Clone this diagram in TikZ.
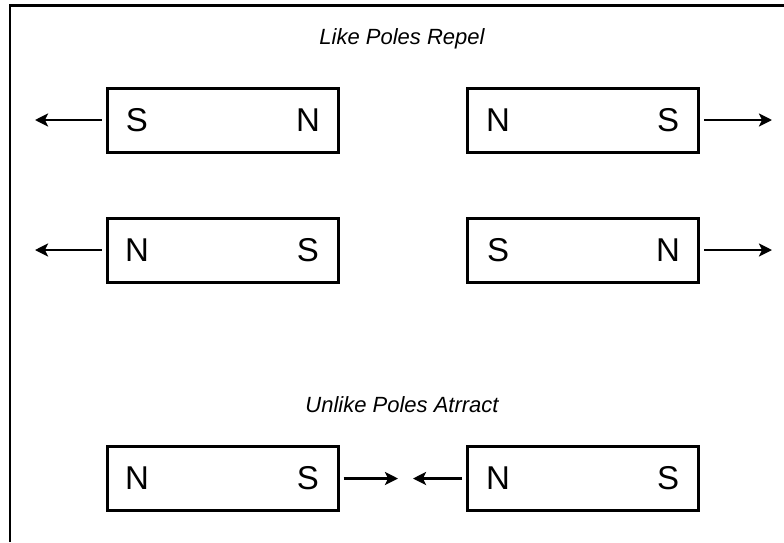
\documentclass[tikz,border=0pt]{standalone}
\usepackage{fontspec}
\setmainfont{Liberation Sans}
\usetikzlibrary{arrows.meta}
\begin{document}
\begin{tikzpicture}[x=1pt,y=-1pt,
  magnet/.style={draw,line width=3pt,minimum width=231pt,minimum height=64pt,inner sep=0pt},
  pole/.style={font=\fontsize{33}{36}\selectfont,inner sep=0pt},
  title/.style={font=\fontsize{22}{26}\selectfont\itshape,inner sep=0pt},
  force/.style={line width=2.5pt,-{Stealth[length=13pt,width=13pt,inset=3pt]}},
  frame/.style={line width=2.5pt}]
\useasboundingbox (0,0) rectangle (784,542);
\draw[frame] (10,542) -- (10,5.5) -- (784,5.5);
\node[title] (t1) at (402,39) {Like Poles Repel};
\node[title] (t2) at (402,405) {Unlike Poles Atrract};
% row 1
\node[magnet] (m1) at (222.5,120) {};
\node[pole] (m1a) at (137,120) {S};
\node[pole] (m1b) at (308,120) {N};
\node[magnet] (m2) at (583,120) {};
\node[pole] (m2a) at (498,120) {N};
\node[pole] (m2b) at (668,120) {S};
% row 2
\node[magnet] (m3) at (222.5,250) {};
\node[pole] (m3a) at (137,250) {N};
\node[pole] (m3b) at (308,250) {S};
\node[magnet] (m4) at (583,250) {};
\node[pole] (m4a) at (498,250) {S};
\node[pole] (m4b) at (668,250) {N};
% row 3
\node[magnet] (m5) at (222.5,478.5) {};
\node[pole] (m5a) at (137,478.5) {N};
\node[pole] (m5b) at (308,478.5) {S};
\node[magnet] (m6) at (583,478.5) {};
\node[pole] (m6a) at (498,478.5) {N};
\node[pole] (m6b) at (668,478.5) {S};
% arrow ends
\coordinate (e1) at (35,120);
\coordinate (e2) at (772,120);
\coordinate (e3) at (35,250);
\coordinate (e4) at (772,250);
\coordinate (e5) at (398,478.5);
\coordinate (e6) at (413,478.5);
\draw[force] ([xshift=-4pt]m1.west) -- (e1);
\draw[force] ([xshift=4pt]m2.east) -- (e2);
\draw[force] ([xshift=-4pt]m3.west) -- (e3);
\draw[force] ([xshift=4pt]m4.east) -- (e4);
\draw[force] ([xshift=4pt]m5.east) -- (e5);
\draw[force] ([xshift=-4pt]m6.west) -- (e6);
\end{tikzpicture}
\end{document}
